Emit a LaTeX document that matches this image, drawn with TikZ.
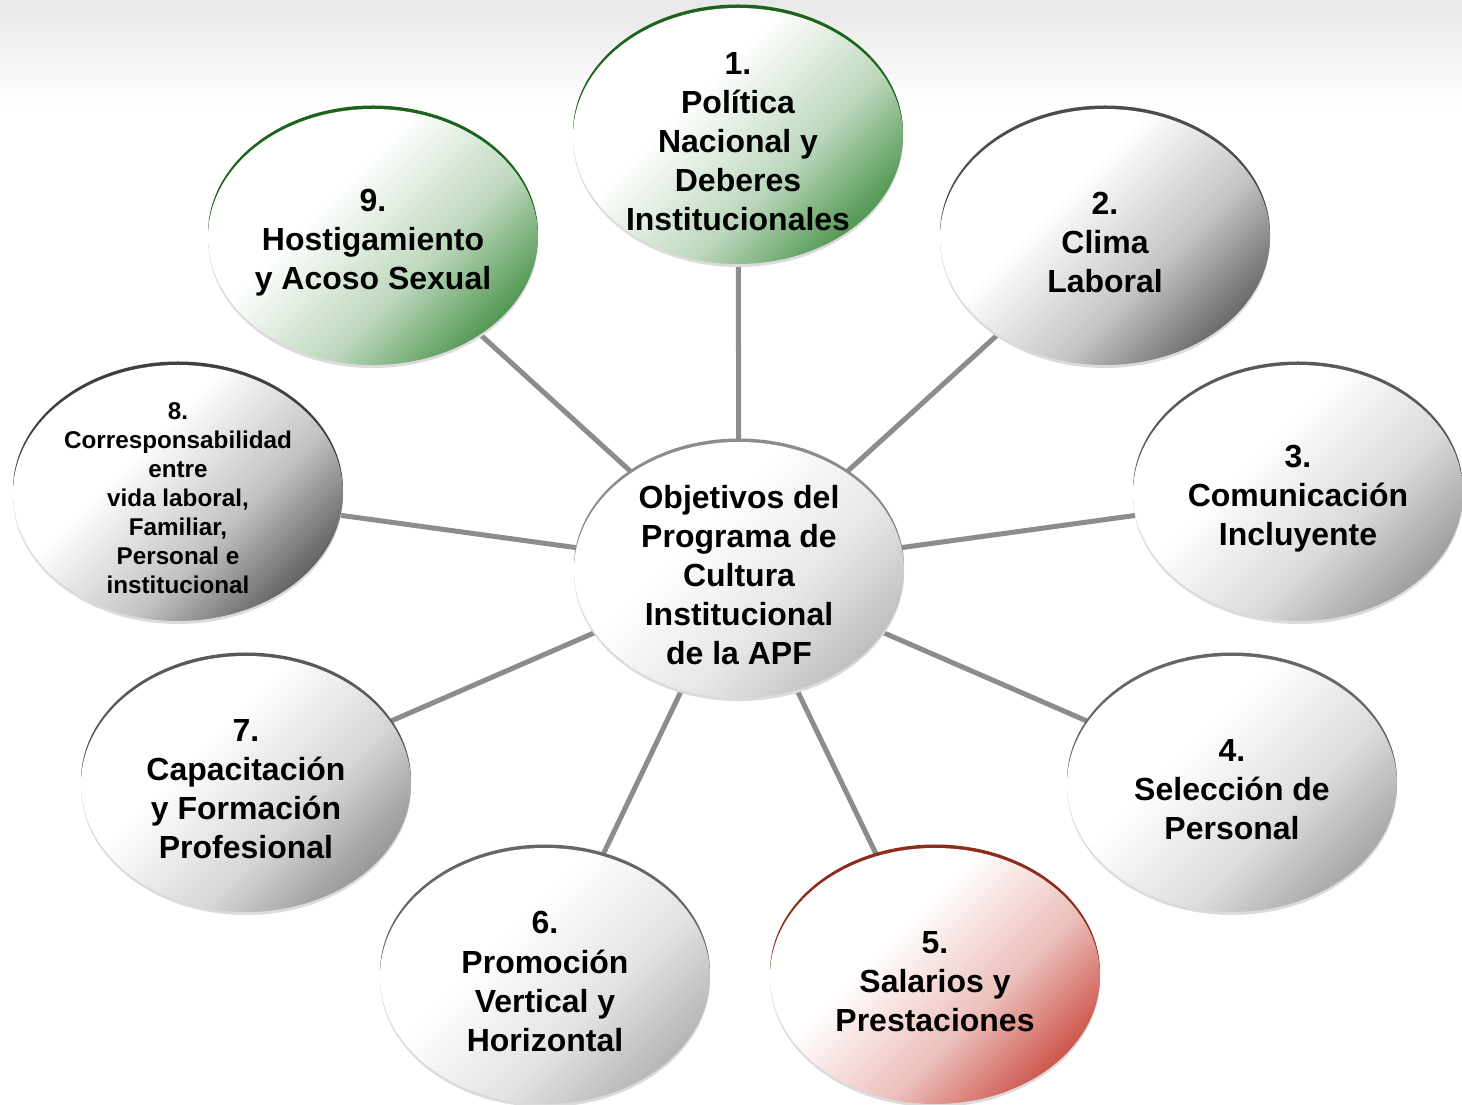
\documentclass[tikz,border=0pt]{standalone}
\usepackage{fontspec}
\setmainfont{Liberation Sans}
\usetikzlibrary{shapes.geometric}
\usetikzlibrary{shadows}

\pgfdeclarelayer{bg}
\pgfsetlayers{bg,main}

\definecolor{leafgreen}{RGB}{62,140,62}
\definecolor{darkgreen}{RGB}{28,100,28}
\definecolor{brickred}{RGB}{200,68,56}
\definecolor{darkred}{RGB}{140,45,28}
\definecolor{linkgray}{RGB}{140,140,140}

\pgfdeclarehorizontalshading[bubblecol]{bubbleshade}{100bp}{color(0bp)=(white); color(40bp)=(white); color(60bp)=(bubblecol!35!white); color(78bp)=(bubblecol); color(100bp)=(bubblecol)}

\tikzset{
  bubble/.style 2 args={ellipse, minimum width=6.6cm, minimum height=5.12cm, inner sep=0pt,
    /utils/exec={\colorlet{bubblecol}{#1}}, shading=bubbleshade, shading angle=-45,
    general shadow={fill=black!14, shadow yshift=-0.06cm},
    general shadow={fill=#2, shadow yshift=0.07cm}},
  txt/.style={align=center, yshift=-0.11cm, font=\bfseries\fontsize{18.2}{22.2}\selectfont},
  smalltxt/.style={align=center, yshift=-0.1cm, font=\bfseries\fontsize{13.8}{16.5}\selectfont},
  link/.style={draw=linkgray, line width=2.85pt}
}

\begin{document}
\begin{tikzpicture}
\useasboundingbox (0,0) rectangle (29.24,22.08);

% centre
\node[bubble={black!28}{black!45}, label={[txt]center:{Objetivos del\\Programa de\\Cultura\\Institucional\\de la APF}}] (obj) at (14.78,10.68) {};

% objetivos
\node[bubble={leafgreen}{darkgreen}, label={[txt]center:{1.\\Política\\Nacional y\\Deberes\\Institucionales}}] (pol) at (14.76,19.36) {};
\node[bubble={black!65}{black!70}, label={[txt]center:{2.\\Clima\\Laboral}}] (clima) at (22.10,17.34) {};
\node[bubble={black!42}{black!65}, label={[txt]center:{3.\\Comunicación\\Incluyente}}] (com) at (25.96,12.22) {};
\node[bubble={black!38}{black!60}, label={[txt]center:{4.\\Selección de\\Personal}}] (sel) at (24.64,6.40) {};
\node[bubble={brickred}{darkred}, label={[txt]center:{5.\\Salarios y\\Prestaciones}}] (sal) at (18.70,2.56) {};
\node[bubble={black!32}{black!60}, label={[txt]center:{6.\\Promoción\\Vertical y\\Horizontal}}] (prom) at (10.90,2.56) {};
\node[bubble={black!45}{black!65}, label={[txt]center:{7.\\Capacitación\\y Formación\\Profesional}}] (cap) at (4.92,6.40) {};
\node[bubble={black!68}{black!75}, label={[smalltxt]center:{8.\\Corresponsabilidad\\entre\\vida laboral,\\Familiar,\\Personal e\\institucional}}] (corr) at (3.56,12.22) {};
\node[bubble={leafgreen}{darkgreen}, label={[txt]center:{9.\\Hostigamiento\\y Acoso Sexual}}] (host) at (7.46,17.34) {};

\begin{pgfonlayer}{bg}
\fill[white] (0,0) rectangle (29.24,22.08);
\shade[top color=black!9, bottom color=white] (0,19.9) rectangle (29.24,22.08);
\foreach \n in {pol,clima,com,sel,sal,prom,cap,corr,host}
  \draw[link] (obj) -- (\n);
\end{pgfonlayer}
\end{tikzpicture}
\end{document}
